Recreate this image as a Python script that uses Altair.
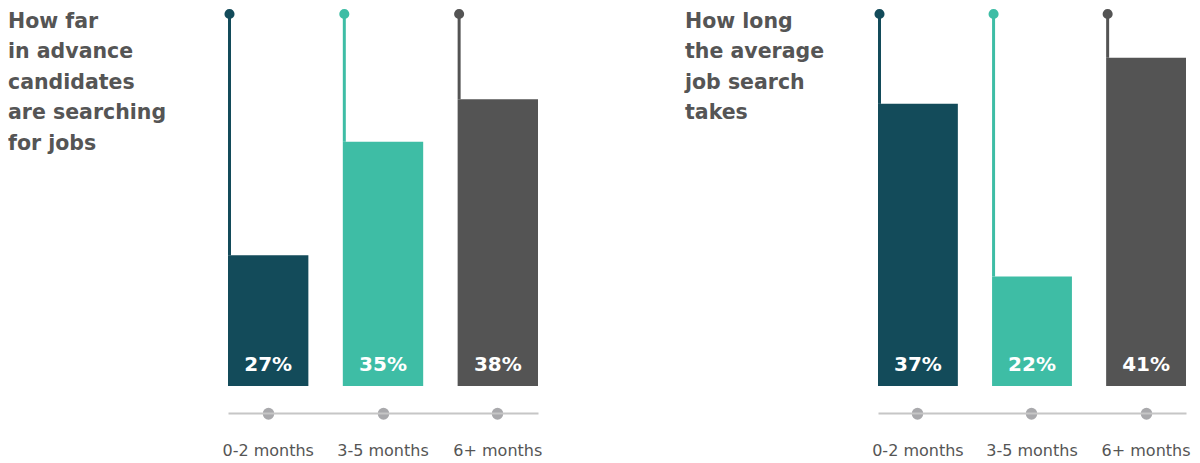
import altair as alt
import pandas as pd

categories = ["0-2 months", "3-5 months", "6+ months"]
advance_values = [27, 35, 38]
duration_values = [37, 22, 41]
bar_colors = ["#134B5A", "#3EBDA5", "#545454"]
title_advance = ["How far", "in advance", "candidates", "are searching", "for jobs"]
title_duration = ["How long", "the average", "job search", "takes"]

PLOT_H = 372
FONT = "DejaVu Sans"
TEXT_COLOR = "#555555"


def panel(values, title_lines, dom, title_dx, width):
    lo, hi = dom
    df = pd.DataFrame({
        "cat": categories,
        "value": values,
        "label": [f"{v}%" for v in values],
    })
    tdf = pd.DataFrame({"t": ["\n".join(title_lines)]})

    axis = alt.Axis(
        title=None, orient="bottom", offset=27, grid=False,
        domainColor="#C6C6C6", domainWidth=2,
        tickColor="#A9A9AC", tickWidth=11.4, tickSize=0.5, tickCap="round",
        labelFont=FONT, labelFontSize=16, labelColor=TEXT_COLOR,
        labelPadding=28.5, labelAngle=0,
    )
    xscale = alt.Scale(paddingInner=0.3, paddingOuter=0)
    yscale = alt.Scale(domain=[lo, hi], zero=False, nice=False)
    color = alt.Color("cat:N", scale=alt.Scale(domain=categories, range=bar_colors), legend=None)

    x_band = alt.X("cat:N", sort=categories, scale=xscale, axis=axis)
    x_edge = alt.X("cat:N", sort=categories, scale=xscale, axis=axis, bandPosition=0)
    y_val = alt.Y("value:Q", scale=yscale, axis=None)

    base = alt.Chart(df)

    stems = base.mark_rule(strokeWidth=3, xOffset=1.5).encode(
        x=x_edge, y=y_val, y2=alt.datum(hi), color=color
    )
    dots = base.mark_circle(size=102, opacity=1, xOffset=1.5).encode(
        x=x_edge, y=alt.Y(datum=hi, scale=yscale, axis=None), color=color
    )
    bars = base.mark_bar().encode(
        x=x_band, y=y_val, y2=alt.datum(lo), color=color
    )
    labels = base.mark_text(
        font=FONT, fontWeight="bold", fontSize=20, color="white",
        baseline="alphabetic", dy=-15
    ).encode(
        x=x_band, y=alt.Y(datum=lo, scale=yscale, axis=None), text="label:N"
    )
    title = alt.Chart(tdf).mark_text(
        font=FONT, fontWeight="bold", fontSize=20.5, color=TEXT_COLOR,
        align="left", baseline="alphabetic", lineBreak="\n", lineHeight=30.5
    ).encode(
        x=alt.value(title_dx), y=alt.value(13.5), text="t:N"
    )
    return alt.layer(stems, dots, bars, labels, title).properties(
        width=width, height=PLOT_H
    )


p1 = panel(advance_values, title_advance, (17.8, 44.0), -220, 310)
p2 = panel(duration_values, title_duration, (12.5, 44.8), -193, 308)

chart = alt.hconcat(p1, p2, spacing=340, bounds="flush").properties(
    padding=0
).configure_view(stroke=None)

chart.save("out.html", embed_options={"renderer": "svg", "actions": False})
